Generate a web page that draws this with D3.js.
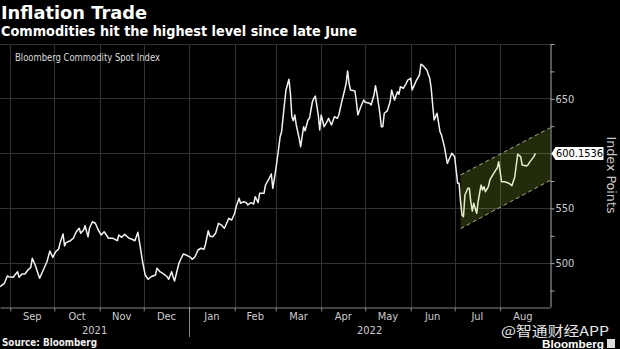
<!DOCTYPE html>
<html><head><meta charset="utf-8">
<script src="https://cdn.jsdelivr.net/npm/d3@7"></script>
<style>body{margin:0;background:#000;}svg{display:block}</style>
</head><body><svg id="c" width="620" height="349"></svg>
<script>
const dates = ["2021-08-25","2021-08-28","2021-08-30","2021-08-31","2021-09-03","2021-09-04","2021-09-06","2021-09-07","2021-09-09","2021-09-11","2021-09-13","2021-09-15","2021-09-16","2021-09-18","2021-09-20","2021-09-21","2021-09-23","2021-09-26","2021-09-28","2021-09-30","2021-10-02","2021-10-04","2021-10-05","2021-10-07","2021-10-08","2021-10-09","2021-10-12","2021-10-14","2021-10-16","2021-10-18","2021-10-19","2021-10-21","2021-10-22","2021-10-24","2021-10-25","2021-10-27","2021-10-29","2021-10-31","2021-11-02","2021-11-04","2021-11-07","2021-11-10","2021-11-13","2021-11-14","2021-11-16","2021-11-18","2021-11-21","2021-11-23","2021-11-25","2021-11-27","2021-11-29","2021-11-30","2021-12-02","2021-12-04","2021-12-06","2021-12-09","2021-12-10","2021-12-12","2021-12-14","2021-12-17","2021-12-18","2021-12-20","2021-12-21","2021-12-22","2021-12-25","2021-12-26","2021-12-28","2021-12-30","2022-01-02","2022-01-03","2022-01-05","2022-01-07","2022-01-09","2022-01-11","2022-01-12","2022-01-14","2022-01-15","2022-01-17","2022-01-19","2022-01-21","2022-01-23","2022-01-25","2022-01-27","2022-01-28","2022-01-30","2022-02-01","2022-02-02","2022-02-04","2022-02-05","2022-02-07","2022-02-09","2022-02-10","2022-02-12","2022-02-14","2022-02-15","2022-02-17","2022-02-18","2022-02-21","2022-02-22","2022-02-24","2022-02-26","2022-02-27","2022-03-01","2022-03-03","2022-03-04","2022-03-05","2022-03-07","2022-03-08","2022-03-10","2022-03-11","2022-03-12","2022-03-13","2022-03-14","2022-03-15","2022-03-17","2022-03-18","2022-03-20","2022-03-21","2022-03-23","2022-03-24","2022-03-26","2022-03-27","2022-03-28","2022-03-30","2022-03-31","2022-04-01","2022-04-03","2022-04-05","2022-04-06","2022-04-08","2022-04-10","2022-04-12","2022-04-13","2022-04-15","2022-04-17","2022-04-18","2022-04-19","2022-04-20","2022-04-21","2022-04-24","2022-04-25","2022-04-26","2022-04-28","2022-04-30","2022-05-01","2022-05-04","2022-05-05","2022-05-07","2022-05-08","2022-05-09","2022-05-11","2022-05-12","2022-05-13","2022-05-14","2022-05-16","2022-05-18","2022-05-19","2022-05-21","2022-05-23","2022-05-24","2022-05-25","2022-05-27","2022-05-29","2022-05-30","2022-06-01","2022-06-02","2022-06-04","2022-06-05","2022-06-07","2022-06-08","2022-06-09","2022-06-11","2022-06-12","2022-06-14","2022-06-15","2022-06-16","2022-06-17","2022-06-18","2022-06-19","2022-06-21","2022-06-22","2022-06-24","2022-06-26","2022-06-27","2022-06-29","2022-07-01","2022-07-02","2022-07-03","2022-07-04","2022-07-05","2022-07-06","2022-07-07","2022-07-08","2022-07-10","2022-07-11","2022-07-12","2022-07-13","2022-07-14","2022-07-16","2022-07-17","2022-07-18","2022-07-19","2022-07-20","2022-07-21","2022-07-22","2022-07-24","2022-07-25","2022-07-27","2022-07-29","2022-07-30","2022-07-31","2022-08-02","2022-08-04","2022-08-07","2022-08-09","2022-08-11","2022-08-12","2022-08-13","2022-08-15","2022-08-16","2022-08-19","2022-08-20","2022-08-21","2022-08-24","2022-08-25"];
const values = [478.5,481.6,488.3,487.6,487.1,488.9,492.2,487.1,490.1,490.1,493.8,496.2,504.4,498.3,490.1,486.2,492.2,501.3,511.1,505.3,510.5,512.9,518.7,526.6,515.7,518.7,520.5,522.7,528.7,531.8,527.3,530.3,534.2,524.1,531.8,537.8,536.4,530.3,525.7,528.7,522.7,522.7,520.5,525.7,523.6,526.3,522.7,521.8,520.5,528.2,512.0,502.9,489.2,485.3,487.6,489.2,495.3,492.2,490.7,487.6,485.3,492.2,487.6,483.7,499.9,502.9,508.4,507.4,505.3,503.5,505.9,512.0,513.6,512.7,516.6,529.6,524.8,524.1,527.3,536.4,534.8,531.8,537.8,540.9,539.4,545.5,551.5,559.2,554.6,556.1,555.2,553.1,555.2,554.0,560.7,555.2,563.8,563.8,571.3,575.9,581.4,568.3,585.0,604.8,615.4,620.0,645.9,658.0,667.8,655.0,633.7,630.0,635.2,626.1,613.9,606.3,624.5,620.9,630.6,632.2,647.3,650.4,652.5,635.2,621.5,635.2,624.5,629.1,632.2,626.1,633.7,632.2,635.2,647.3,658.0,664.1,675.4,664.1,658.0,657.1,647.3,635.2,642.8,648.9,646.8,645.9,644.3,653.5,661.9,655.0,636.8,624.5,624.5,636.8,638.9,647.3,658.0,648.9,656.5,654.1,661.0,659.6,664.1,667.1,668.7,658.0,664.1,667.1,671.7,681.5,680.8,677.8,676.3,668.7,659.6,644.3,630.6,633.7,636.8,620.0,617.0,606.3,591.1,594.1,600.3,597.2,585.0,572.9,572.9,556.1,544.0,542.4,562.2,568.3,568.3,556.1,547.6,554.6,545.5,556.1,563.8,571.3,566.8,569.8,565.2,569.8,575.9,580.5,585.0,586.6,592.6,574.3,574.3,572.9,570.7,578.9,589.6,599.3,597.2,589.6,588.7,589.6,592.0,597.2,600.1536];

const xDomain = ["2021-08-25","2022-09-04"];
const monthStarts = ["2021-09-01","2021-10-01","2021-11-01","2021-12-01","2022-01-01","2022-02-01","2022-03-01","2022-04-01","2022-05-01","2022-06-01","2022-07-01","2022-08-01","2022-09-01"];
const monthLabels = ["Sep","Oct","Nov","Dec","Jan","Feb","Mar","Apr","May","Jun","Jul","Aug"];
const yearLabels = ["2021","2022"];
const yearBreak = "2022-01-01";
const yDomain = [460,700];
const yTicks = [475,500,525,550,575,600,625,650,675,700];
const yLabelTicks = [500,550,650];
const yGrid = [500,550,600,650,700];
const channelDates = ["2022-07-05","2022-09-04"];
const channelUpper = [580.5,623.5];
const channelLower = [531.5,575.5];
const lastLabel = "600.1536";

const title = "Inflation Trade";
const subtitle = "Commodities hit the highest level since late June";
const seriesName = "Bloomberg Commodity Spot Index";
const yAxisTitle = "Index Points";
const source = "Source: Bloomberg";

const parse = d3.utcParse("%Y-%m-%d");
const data = dates.map((d,i)=>({date:parse(d), value:values[i]}));
const FONT = "'DejaVu Sans Condensed','DejaVu Sans',sans-serif";

const svg = d3.select("#c");
svg.append("rect").attr("width",620).attr("height",349).attr("fill","#000");

const x = d3.scaleUtc().domain(xDomain.map(parse)).range([0,550]);
const y = d3.scaleLinear().domain(yDomain).range([307,44]);

// grid
svg.append("g").selectAll("line").data(yGrid).join("line")
  .attr("x1",0).attr("x2",550).attr("y1",d=>y(d)).attr("y2",d=>y(d))
  .attr("stroke","#333").attr("stroke-width",1).attr("shape-rendering","crispEdges");
const ms = monthStarts.map(parse);
svg.append("g").selectAll("line").data(ms.slice(0,12)).join("line")
  .attr("x1",d=>Math.round(x(d))+0.5).attr("x2",d=>Math.round(x(d))+0.5).attr("y1",44).attr("y2",307)
  .attr("stroke","#333").attr("stroke-width",1);

// bottom axis
const xAxis = svg.append("g").attr("transform","translate(0,307.5)")
  .call(d3.axisBottom(x).tickValues(ms.slice(0,12)).tickSize(4).tickSizeOuter(0).tickFormat(""));
xAxis.select(".domain").attr("stroke","#888");
xAxis.selectAll(".tick line").attr("stroke","#888");
svg.append("line").attr("x1",Math.round(x(parse(yearBreak)))+0.5).attr("x2",Math.round(x(parse(yearBreak)))+0.5)
  .attr("y1",307).attr("y2",337).attr("stroke","#888");

svg.append("g").selectAll("text").data(monthLabels).join("text")
  .attr("x",(d,i)=>(x(ms[i])+x(ms[i+1]))/2).attr("y",319.5)
  .attr("text-anchor","middle").attr("fill","#ccc")
  .style("font-family",FONT).style("font-size","11px").text(d=>d);
const yb = x(parse(yearBreak));
svg.append("g").selectAll("text").data(yearLabels).join("text")
  .attr("x",(d,i)=> i===0 ? (0+yb)/2 : (yb+550)/2).attr("y",334)
  .attr("text-anchor","middle").attr("fill","#ccc")
  .style("font-family",FONT).style("font-size","11px").text(d=>d);

// line
const line = d3.line().x(d=>x(d.date)).y(d=>y(d.value));
svg.append("path").datum(data).attr("d",line).attr("fill","none")
  .attr("stroke","#f2f2f2").attr("stroke-width",1.5).attr("stroke-linejoin","round");

// channel
const cd = channelDates.map(parse);
const band = cd.map((d,i)=>({date:d, lo:channelLower[i], hi:channelUpper[i]}));
svg.append("path").datum(band)
  .attr("d",d3.area().x(d=>x(d.date)).y0(d=>y(d.lo)).y1(d=>y(d.hi)))
  .attr("fill","rgba(170,220,60,0.2)");
[channelUpper, channelLower].forEach(arr=>{
  svg.append("path").datum(cd.map((d,i)=>({date:d,v:arr[i]})))
    .attr("d",d3.line().x(d=>x(d.date)).y(d=>y(d.v)))
    .attr("fill","none").attr("stroke","#a9ad8c").attr("stroke-width",1).attr("stroke-dasharray","4,3");
});

// right axis
const yAxis = svg.append("g").attr("transform","translate(550.5,0)")
  .call(d3.axisRight(y).tickValues(yTicks).tickSize(4).tickSizeOuter(0)
    .tickFormat(d=>yLabelTicks.includes(d)?d:""));
yAxis.select(".domain").attr("stroke","#aaa");
yAxis.selectAll(".tick line").attr("stroke","#aaa");
yAxis.selectAll(".tick text").attr("fill","#ccc").attr("x",5)
  .style("font-family",FONT).style("font-size","11px");

// last value label
const lv = values[values.length-1];
const lg = svg.append("g").attr("transform",`translate(551.5,${y(lv)})`);
lg.append("path").attr("d","M0,0 L4,-6.5 H52 V6.5 H4 Z").attr("fill","#fff");
lg.append("text").attr("x",28).attr("y",4).attr("text-anchor","middle").attr("fill","#000")
  .style("font-family",FONT).style("font-size","11px").text(lastLabel);

svg.append("text").attr("transform","translate(607,175) rotate(90)").attr("text-anchor","middle")
  .attr("fill","#ccc").attr("textLength",77).attr("lengthAdjust","spacingAndGlyphs")
  .style("font-family",FONT).style("font-size","12.5px").text(yAxisTitle);

// titles
svg.append("text").attr("x",1).attr("y",18.5).attr("fill","#fff")
  .attr("textLength",146).attr("lengthAdjust","spacingAndGlyphs")
  .style("font-family","'DejaVu Sans',sans-serif").style("font-weight","bold").style("font-size","17px").text(title);
svg.append("text").attr("x",1).attr("y",35.5).attr("fill","#fff")
  .attr("textLength",356).attr("lengthAdjust","spacingAndGlyphs")
  .style("font-family","'DejaVu Sans',sans-serif").style("font-weight","bold").style("font-size","13.5px").text(subtitle);
svg.append("text").attr("x",15).attr("y",61).attr("fill","#ddd")
  .attr("textLength",145).attr("lengthAdjust","spacingAndGlyphs")
  .style("font-family",FONT).style("font-size","10px").text(seriesName);
svg.append("text").attr("x",2).attr("y",346).attr("fill","#eee")
  .attr("textLength",95).attr("lengthAdjust","spacingAndGlyphs")
  .style("font-family","'DejaVu Sans',sans-serif").style("font-weight","bold").style("font-size","10px").text(source);

// watermark / logo
svg.append("text").attr("x",501).attr("y",335.5).attr("fill","#e6e6e6")
  .attr("textLength",108).attr("lengthAdjust","spacingAndGlyphs")
  .style("font-family","'Noto Sans CJK SC',sans-serif").style("font-size","13.5px").text("@智通财经APP");
svg.append("text").attr("x",542).attr("y",347.5).attr("fill","#fff")
  .attr("textLength",62).attr("lengthAdjust","spacingAndGlyphs")
  .style("font-family","'Liberation Sans',sans-serif").style("font-weight","bold").style("font-size","10.5px").text("Bloomberg");
svg.append("rect").attr("x",607).attr("y",339).attr("width",8).attr("height",9).attr("fill","#ddd");
</script></body></html>
